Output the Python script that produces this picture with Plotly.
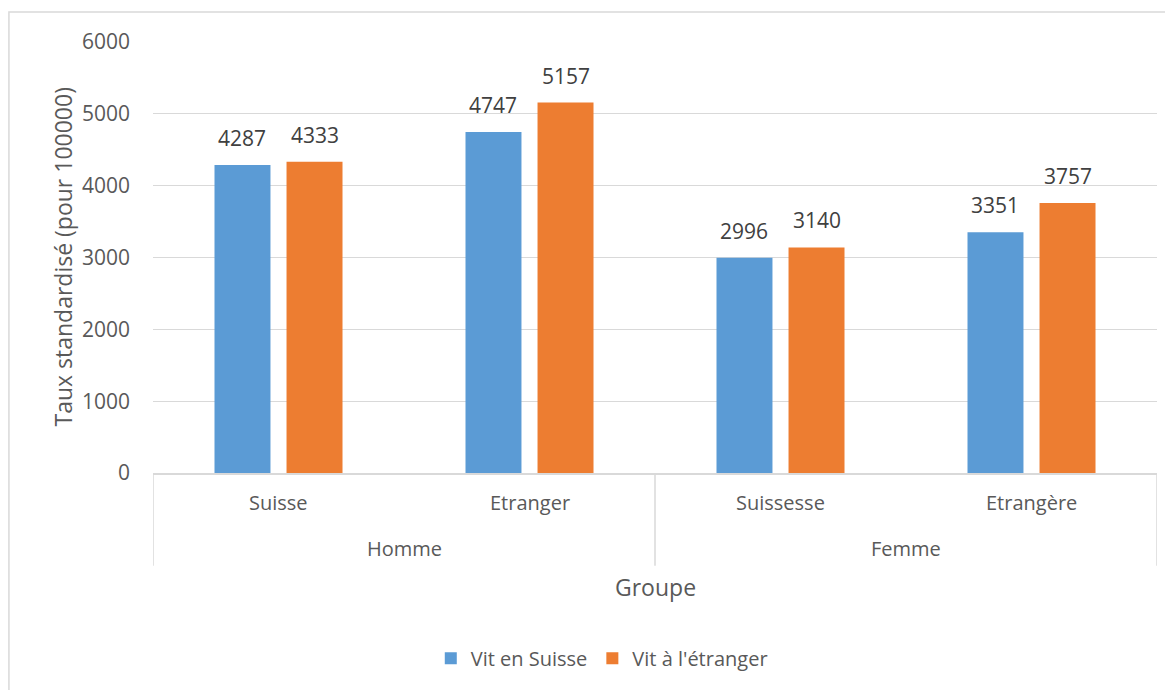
import plotly.graph_objects as go

# données
sexe_labels = ["Homme", "Femme"]
groupe = ["Suisse", "Etranger", "Suissesse", "Etrangère"]
vit_suisse = [4287, 4747, 2996, 3351]
vit_etranger = [4333, 5157, 3140, 3757]
y_ticks = [0, 1000, 2000, 3000, 4000, 5000, 6000]

BLUE = "#5B9BD5"
ORANGE = "#ED7D31"
TXT = "#595959"
GRID = "#D9D9D9"
FONT = "Open Sans"

BAR_W = 0.223
SERIES = [
    ("Vit en Suisse", vit_suisse, BLUE, -0.255),
    ("Vit à l'étranger", vit_etranger, ORANGE, 0.032),
]

fig = go.Figure()
for name, vals, color, off in SERIES:
    fig.add_trace(go.Bar(
        x=groupe, y=vals, name=name, marker_color=color,
        width=BAR_W, offset=off, marker_line_width=0,
    ))
    # étiquettes de valeurs
    for i, v in enumerate(vals):
        fig.add_annotation(
            x=i + off + BAR_W / 2, y=v, xref="x", yref="y", text=str(v),
            showarrow=False, yanchor="bottom", yshift=11,
            font=dict(size=21, color="#404040", family=FONT),
        )

# la page ajoute une marge de 8 px autour du graphique
fig.update_layout(
    width=1173, height=690,
    margin=dict(l=145, r=24, t=34, b=225),
    paper_bgcolor="white", plot_bgcolor="white",
    font=dict(family=FONT, color=TXT, size=20),
    barmode="overlay",
    showlegend=True,
    legend=dict(orientation="h", x=0.447, xanchor="center", y=-0.43, yanchor="middle",
                font=dict(size=20, color=TXT), traceorder="normal", itemwidth=30),
)
fig.update_xaxes(
    type="category", range=[-0.5, 3.5], automargin=False,
    showline=True, linecolor=GRID, linewidth=2, ticks="",
    showticklabels=False, showgrid=False,
)
fig.update_yaxes(
    range=[0, 6000], tickvals=y_ticks, showgrid=True, gridcolor=GRID, gridwidth=1,
    zeroline=False, showline=False, ticks="", automargin=False,
    tickfont=dict(size=21, color=TXT), ticklabelstandoff=22,
)

# étiquettes du premier niveau (sous-groupes)
for i, g in enumerate(groupe):
    fig.add_annotation(x=i, y=-0.0696, xref="x", yref="paper", text=g, showarrow=False,
                       yanchor="middle", font=dict(size=20, color=TXT))
# étiquettes du second niveau (sexe)
for j, s in enumerate(sexe_labels):
    fig.add_annotation(x=2 * j + 0.5, y=-0.176, xref="x", yref="paper", text=s,
                       showarrow=False, yanchor="middle", font=dict(size=20, color=TXT))
# séparateurs
for xd in [-0.5, 1.5, 3.5]:
    fig.add_shape(type="line", xref="x", yref="paper", x0=xd, x1=xd, y0=0, y1=-0.215,
                  line=dict(color=GRID, width=1.5))

# titres des axes
fig.add_annotation(x=0.5, y=-0.265, xref="paper", yref="paper", text="Groupe",
                   showarrow=False, yanchor="middle", font=dict(size=23, color=TXT))
fig.add_annotation(x=-0.0906, y=0.5, xref="paper", yref="paper",
                   text="Taux standardisé (pour 100000)", textangle=-90,
                   showarrow=False, xanchor="center", yanchor="middle",
                   font=dict(size=23, color=TXT))

# cadre du graphique
fig.add_shape(type="rect", xref="paper", yref="paper", x0=-0.1435, x1=1.1, y0=-0.6, y1=1.0696,
              line=dict(color=GRID, width=1.5), fillcolor="rgba(0,0,0,0)", layer="below")

fig.write_html("out.html")
